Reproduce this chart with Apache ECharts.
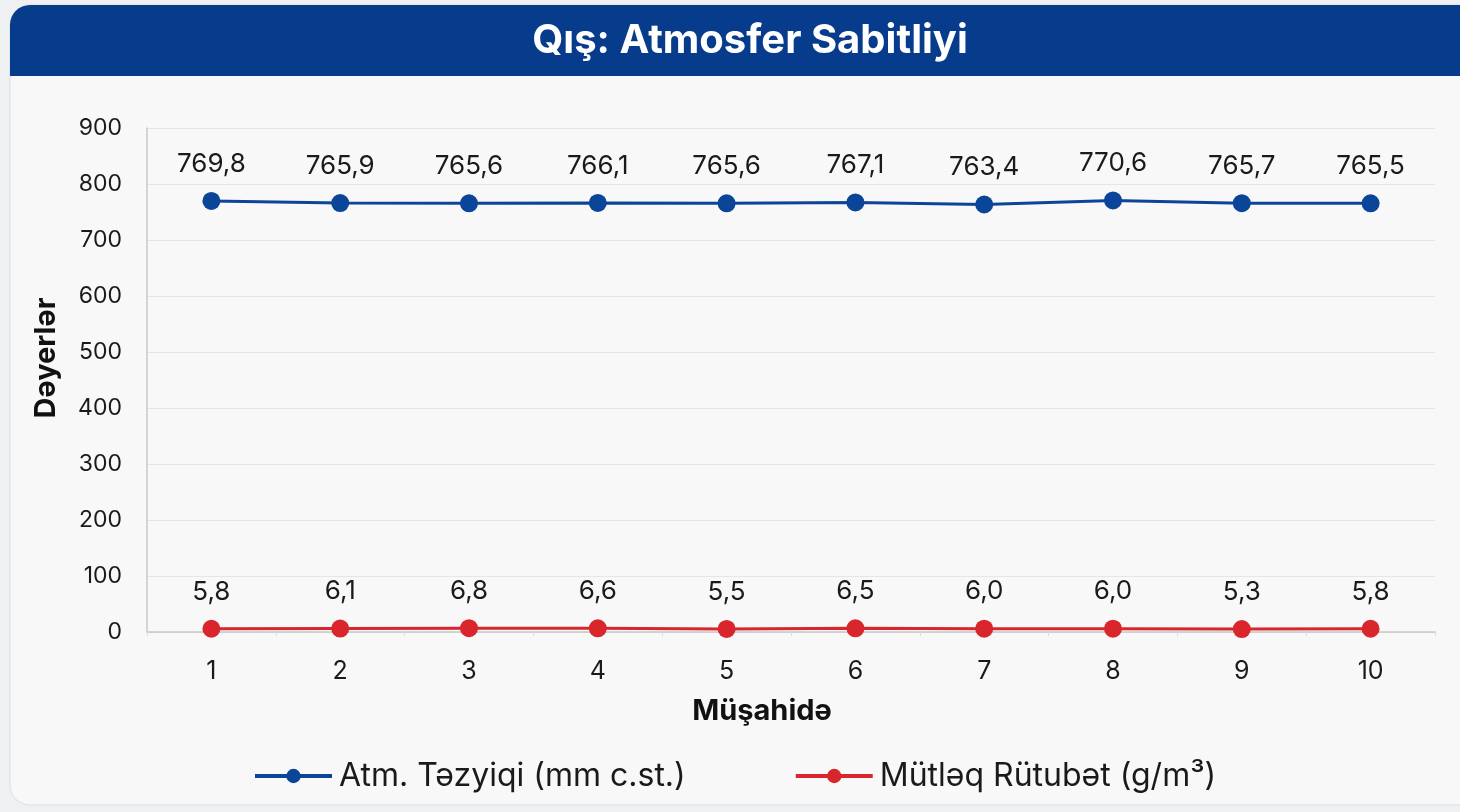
<!DOCTYPE html>
<html>
<head>
<meta charset="utf-8">
<script src="https://cdn.jsdelivr.net/npm/echarts@6/dist/echarts.min.js"></script>
<style>
  html, body { margin: 0; padding: 0; background: #eef0f2; overflow: hidden; }
  #chart { width: 1460px; height: 812px; }
</style>
</head>
<body>
<div id="chart"></div>
<script>
const categories = ['1', '2', '3', '4', '5', '6', '7', '8', '9', '10'];
const pressure = [769.8, 765.9, 765.6, 766.1, 765.6, 767.1, 763.4, 770.6, 765.7, 765.5];
const humidity = [5.8, 6.1, 6.8, 6.6, 5.5, 6.5, 6.0, 6.0, 5.3, 5.8];
const seriesNames = ['Atm. Təzyiqi (mm c.st.)', 'Mütləq Rütubət (g/m³)'];
const titleText = 'Qış: Atmosfer Sabitliyi';
const yAxisName = 'Dəyerlər';
const xAxisName = 'Müşahidə';

const chart = echarts.init(document.getElementById('chart'), null, { renderer: 'canvas' });
const fontFamily = 'Inter, "Noto Sans", "DejaVu Sans", sans-serif';
const fmt = p => p.value.toFixed(1).replace('.', ',');

chart.setOption({
  animation: false,
  textStyle: { fontFamily },
  graphic: [
    { type: 'rect', z: -10, shape: { x: 10, y: 5, width: 1480, height: 800, r: 20 },
      style: { fill: '#f8f8f9', stroke: '#d9dde3', lineWidth: 1 } },
    { type: 'rect', z: -9, shape: { x: 10, y: 5, width: 1480, height: 71, r: [20, 20, 0, 0] },
      style: { fill: '#073b8b' } }
  ],
  title: {
    text: titleText,
    left: 745, top: 16, textAlign: 'center',
    textStyle: { color: '#ffffff', fontSize: 40, fontWeight: 'bold', fontFamily }
  },
  legend: {
    top: 755, left: 248,
    itemWidth: 77, itemHeight: 18, itemGap: 108,
    lineStyle: { width: 4 },
    textStyle: { fontSize: 32, color: '#1a1a1a', fontFamily, padding: [0, 0, 0, 2] },
    data: seriesNames
  },
  grid: { left: 147, right: 25, top: 128, bottom: 180, containLabel: false },
  xAxis: {
    type: 'category', data: categories, boundaryGap: true,
    name: xAxisName, nameLocation: 'middle', nameGap: 65,
    nameTextStyle: { fontSize: 29, fontWeight: 'bold', color: '#111', padding: [0, 58, 0, 0] },
    axisLine: { show: true, lineStyle: { color: '#c8c8c8', width: 1.5 } },
    axisTick: { show: true, length: 4, lineStyle: { color: '#dcdcdc' } },
    axisLabel: { fontSize: 25, color: '#1a1a1a', margin: 27 },
    splitLine: { show: false }
  },
  yAxis: {
    type: 'value', min: 0, max: 900, interval: 100,
    name: yAxisName, nameLocation: 'middle', nameGap: 86, nameRotate: 90,
    nameTextStyle: { fontSize: 29, fontWeight: 'bold', color: '#111', padding: [0, 0, 0, 44] },
    axisLine: { show: true, lineStyle: { color: '#c8c8c8', width: 1.5 } },
    axisTick: { show: false },
    axisLabel: { fontSize: 23, color: '#1a1a1a', margin: 25 },
    splitLine: { show: true, lineStyle: { color: '#e6e6e6', width: 1 } }
  },
  series: [
    {
      name: seriesNames[0], type: 'line', data: pressure,
      symbol: 'circle', symbolSize: 18,
      lineStyle: { color: '#0b4599', width: 3 },
      itemStyle: { color: '#0b4599' },
      label: { show: true, position: 'top', distance: 15, fontSize: 26, color: '#1a1a1a', formatter: fmt }
    },
    {
      name: seriesNames[1], type: 'line', data: humidity,
      symbol: 'circle', symbolSize: 18,
      lineStyle: { color: '#d8262c', width: 3 },
      itemStyle: { color: '#d8262c' },
      label: { show: true, position: 'top', distance: 15, fontSize: 26, color: '#1a1a1a', formatter: fmt }
    }
  ]
});
</script>
</body>
</html>
